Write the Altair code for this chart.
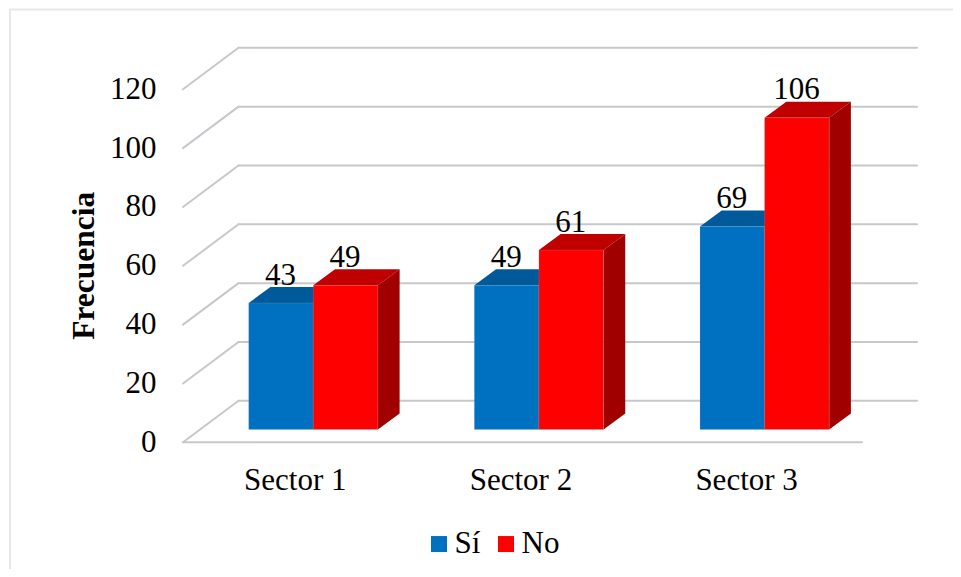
import altair as alt
import pandas as pd

# --- data ---
categories = ["Sector 1", "Sector 2", "Sector 3"]
series_names = ["Sí", "No"]
si_values = [43, 49, 69]
no_values = [49, 61, 106]
y_ticks = [0, 20, 40, 60, 80, 100, 120]

# --- layout: x units are pixels of the plot area, y units are axis units ---
FONT = "Liberation Serif"
FS = 31
PX_PER_UNIT = 58.83 / 20
LEFT, TOP = 183.0, 47.3
PLOT_W, PLOT_H = 734, 395
Y_MAX = PLOT_H / PX_PER_UNIT
WALL_DX, WALL_DY = 55.5, 41.5 / PX_PER_UNIT
FLOOR_W = 679
BAR_BASE = 12.8 / PX_PER_UNIT
BAR_DX, BAR_DY = 21.7, 16 / PX_PER_UNIT
BAR_W = 64.6
FIRST_X, PITCH = 248.7 - LEFT, 225.65

COLORS = {"Sí": "#0070C0", "No": "#FF0000"}
TOPS = {"Sí": "#005A9A", "No": "#C00000"}
SIDES = {"Sí": "#00497D", "No": "#A00000"}
GRID = "#C7C8CC"

x_scale = alt.Scale(domain=[0, PLOT_W], range=[0, PLOT_W], nice=False, zero=False)
y_scale = alt.Scale(domain=[0, Y_MAX], nice=False, zero=False)
y_axis = alt.Axis(
    values=y_ticks,
    title="Frecuencia",
    titleFont=FONT,
    titleFontSize=31.5,
    titleFontWeight="bold",
    titleColor="#000000",
    titleX=-83,
    titleY=218,
    titleAlign="center",
    titleAngle=-90,
    labelFont=FONT,
    labelFontSize=FS,
    labelColor="#000000",
    labelPadding=27,
    domain=False,
    ticks=False,
    grid=False,
)
X = alt.X("x:Q", scale=x_scale, axis=None)
Y = alt.Y("y:Q", scale=y_scale, axis=y_axis)

# --- build tables ---
fronts, tops, sides, labels = [], [], [], []
for i, cat in enumerate(categories):
    for j, (name, vals) in enumerate(zip(series_names, [si_values, no_values])):
        v = vals[i]
        x0 = FIRST_X + i * PITCH + j * BAR_W
        x1 = x0 + BAR_W
        key = f"{cat}-{name}"
        top = BAR_BASE + v * 1.0
        fronts.append(dict(x=x0, x2=x1, y=BAR_BASE, y2=top, serie=name, j=j))
        tops += [
            dict(key=key, serie=name, j=j, y=top, x=x0, x2=x1),
            dict(key=key, serie=name, j=j, y=top + BAR_DY, x=x0 + BAR_DX, x2=x1 + BAR_DX),
        ]
        sides += [
            dict(key=key, serie=name, j=j, x=x1, y=BAR_BASE, y2=top),
            dict(key=key, serie=name, j=j, x=x1 + BAR_DX, y=BAR_BASE + BAR_DY, y2=top + BAR_DY),
        ]
        labels.append(dict(x=(x0 + x1) / 2 - 0.5, y=top + BAR_DY + 0.8, t=str(v), j=j))

fronts, tops, sides, labels = map(pd.DataFrame, (fronts, tops, sides, labels))

back = pd.DataFrame([dict(x=WALL_DX, x2=PLOT_W, y=t + WALL_DY, y2=t + WALL_DY) for t in y_ticks])
wall = pd.DataFrame([dict(x=0, x2=WALL_DX, y=t, y2=t + WALL_DY) for t in y_ticks])
floor = pd.DataFrame([dict(x=0, x2=FLOOR_W, y=0, y2=0)])
grid_df = pd.concat([back, wall, floor], ignore_index=True)

grid = alt.Chart(grid_df).mark_rule(color=GRID, strokeWidth=2, strokeCap="round").encode(
    x=X, x2="x2:Q", y=Y, y2="y2:Q"
)


def faces(j):
    t = alt.Chart(tops[tops.j == j]).mark_area(orient="horizontal", color=TOPS[series_names[j]]).encode(
        y=Y, x=X, x2="x2:Q", detail="key:N"
    )
    s = alt.Chart(sides[sides.j == j]).mark_area(color=SIDES[series_names[j]]).encode(
        x=X, y=Y, y2="y2:Q", detail="key:N"
    )
    return [t, s]


front = alt.Chart(fronts).mark_rect(stroke="#A9ABB0", strokeWidth=0.5, strokeOpacity=0.4).encode(
    x=X,
    x2="x2:Q",
    y=Y,
    y2="y2:Q",
    color=alt.Color(
        "serie:N",
        scale=alt.Scale(domain=series_names, range=[COLORS[s] for s in series_names]),
        legend=alt.Legend(
            title=None,
            orient="none",
            direction="horizontal",
            legendX=240.5,
            legendY=481,
            columns=2,
            columnPadding=10,
            symbolType="square",
            symbolSize=256,
            symbolStrokeWidth=0,
            symbolOpacity=1,
            labelFont=FONT,
            labelFontSize=FS,
            labelColor="#000000",
            labelOffset=0,
            padding=0,
        ),
    ),
)

value_text = alt.Chart(labels).mark_text(
    font=FONT, fontSize=FS, color="#000000", baseline="alphabetic", align="center"
).encode(x=X, y=Y, text="t:N")

cat_text = alt.Chart(
    pd.DataFrame({"c": categories, "x": [FIRST_X + BAR_W + i * PITCH - 18 for i in range(3)]})
).mark_text(
    font=FONT, fontSize=FS, color="#000000", baseline="alphabetic", align="center", dy=48
).encode(x=X, y=alt.value(PLOT_H), text="c:N")

edge_df = pd.DataFrame({"a": [0]})
edge_top = alt.Chart(edge_df).mark_rule(color="#E4E7EB", strokeWidth=2).encode(
    x=alt.value(9 - LEFT), x2=alt.value(961 - LEFT), y=alt.value(9.5 - TOP)
)
edge_left = alt.Chart(edge_df).mark_rule(color="#E4E7EB", strokeWidth=2).encode(
    x=alt.value(10 - LEFT), y=alt.value(9 - TOP), y2=alt.value(577 - TOP)
)

chart = alt.layer(
    edge_top, edge_left, grid, *faces(0), *faces(1), front, value_text, cat_text
).properties(
    width=PLOT_W,
    height=PLOT_H,
    background="#FFFFFF",
    padding={"left": LEFT - 8, "top": TOP - 8, "right": 953 - LEFT - PLOT_W, "bottom": 569 - TOP - PLOT_H},
    autosize=alt.AutoSizeParams(type="none"),
).configure_view(stroke=None)

chart.save("out.html", embed_options={"renderer": "svg", "actions": False})
